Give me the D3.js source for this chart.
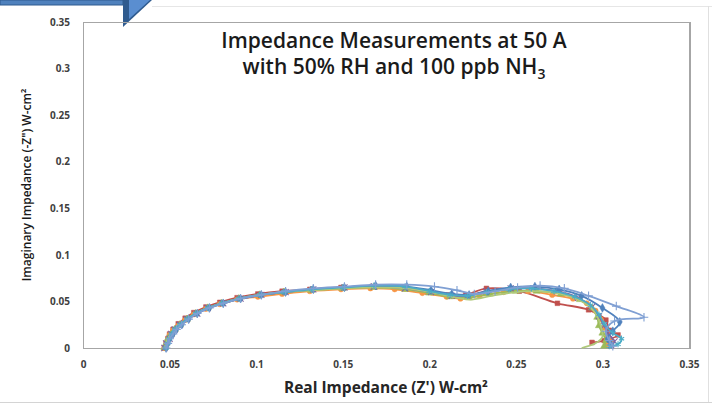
<!DOCTYPE html>
<html>
<head>
<meta charset="utf-8">
<script src="https://cdn.jsdelivr.net/npm/d3@7"></script>
<style>
  body { margin: 0; background: #fff; }
  svg { display: block; }
  text { font-family: "Open Sans", "Noto Sans", sans-serif; }
</style>
</head>
<body>
<svg id="chart" width="712" height="404"></svg>
<script>
// axis ticks
const xTicks = [0, 0.05, 0.1, 0.15, 0.2, 0.25, 0.3, 0.35];
const yTicks = [0, 0.05, 0.1, 0.15, 0.2, 0.25, 0.3, 0.35];

// each run: real part (Z') and imaginary part (-Z'')
const blueX   = [0.048,0.049,0.050,0.052,0.054,0.057,0.061,0.066,0.073,0.081,0.091,0.103,0.117,0.133,0.151,0.169,0.187,0.201,0.213,0.223,0.234,0.247,0.261,0.275,0.288,0.300,0.310,0.306,0.303,0.305];
const blueY   = [0.000,0.005,0.010,0.015,0.020,0.025,0.031,0.037,0.043,0.048,0.053,0.057,0.060,0.063,0.065,0.067,0.066,0.062,0.058,0.057,0.061,0.065,0.066,0.063,0.056,0.043,0.028,0.018,0.010,0.004];
const redX    = [0.047,0.048,0.049,0.050,0.052,0.055,0.059,0.064,0.071,0.079,0.089,0.101,0.115,0.131,0.149,0.167,0.185,0.199,0.211,0.221,0.233,0.252,0.274,0.292,0.302,0.304,0.309,0.301,0.294];
const redY    = [0.000,0.005,0.010,0.015,0.020,0.026,0.032,0.038,0.044,0.049,0.054,0.058,0.061,0.063,0.065,0.066,0.064,0.060,0.057,0.057,0.064,0.061,0.048,0.041,0.030,0.019,0.014,0.008,0.006];
const greenX  = [0.047,0.048,0.049,0.051,0.053,0.056,0.060,0.065,0.072,0.080,0.090,0.102,0.116,0.132,0.150,0.168,0.186,0.200,0.212,0.223,0.235,0.250,0.262,0.276,0.287,0.294,0.297,0.298,0.300,0.302,0.301];
const greenY  = [0.000,0.005,0.010,0.015,0.020,0.025,0.031,0.037,0.043,0.048,0.053,0.057,0.060,0.062,0.064,0.065,0.063,0.059,0.055,0.054,0.058,0.061,0.061,0.058,0.052,0.043,0.033,0.024,0.016,0.008,0.002];
const purpleX = [0.047,0.048,0.050,0.051,0.053,0.056,0.060,0.066,0.072,0.081,0.091,0.103,0.117,0.133,0.151,0.168,0.186,0.201,0.213,0.222,0.233,0.247,0.260,0.274,0.286,0.294,0.298,0.301,0.304,0.307,0.305];
const purpleY = [0.000,0.005,0.010,0.015,0.020,0.025,0.031,0.037,0.043,0.048,0.053,0.057,0.060,0.063,0.065,0.066,0.064,0.060,0.056,0.056,0.061,0.064,0.064,0.061,0.054,0.044,0.034,0.024,0.014,0.007,0.003];
const aquaX   = [0.048,0.049,0.050,0.051,0.053,0.056,0.060,0.065,0.072,0.080,0.090,0.102,0.116,0.132,0.150,0.168,0.186,0.200,0.212,0.222,0.233,0.246,0.259,0.272,0.284,0.293,0.298,0.301,0.306,0.311,0.309,0.304];
const aquaY   = [0.000,0.005,0.010,0.015,0.020,0.025,0.031,0.037,0.043,0.048,0.053,0.057,0.060,0.063,0.065,0.067,0.066,0.061,0.057,0.056,0.060,0.063,0.064,0.061,0.055,0.046,0.036,0.026,0.016,0.010,0.004,0.002];
const orangeX = [0.047,0.048,0.049,0.050,0.052,0.055,0.059,0.064,0.071,0.079,0.089,0.101,0.115,0.131,0.149,0.166,0.180,0.196,0.210,0.218,0.229,0.243,0.257,0.271,0.283,0.291,0.296,0.299,0.301,0.303,0.305,0.303];
const orangeY = [0.000,0.004,0.009,0.014,0.019,0.024,0.030,0.036,0.042,0.047,0.052,0.055,0.058,0.061,0.063,0.064,0.063,0.059,0.055,0.053,0.056,0.060,0.061,0.057,0.053,0.048,0.040,0.031,0.022,0.014,0.008,0.004];
const paleX   = [0.048,0.049,0.050,0.052,0.054,0.057,0.061,0.066,0.073,0.081,0.091,0.103,0.117,0.133,0.151,0.169,0.187,0.203,0.216,0.226,0.238,0.251,0.264,0.278,0.292,0.308,0.324,0.307,0.302,0.304,0.306];
const paleY   = [0.000,0.005,0.010,0.015,0.020,0.025,0.031,0.037,0.043,0.048,0.053,0.057,0.061,0.064,0.066,0.068,0.068,0.066,0.062,0.058,0.061,0.065,0.067,0.064,0.056,0.045,0.033,0.029,0.018,0.008,0.002];
const limeX   = [0.047,0.048,0.049,0.051,0.053,0.056,0.060,0.065,0.072,0.080,0.090,0.102,0.116,0.132,0.150,0.168,0.186,0.201,0.213,0.224,0.236,0.250,0.263,0.276,0.286,0.293,0.297,0.299,0.300,0.296,0.288];
const limeY   = [0.000,0.005,0.010,0.015,0.020,0.025,0.031,0.037,0.043,0.048,0.053,0.057,0.060,0.062,0.064,0.065,0.064,0.060,0.055,0.052,0.056,0.060,0.061,0.058,0.052,0.044,0.034,0.024,0.012,0.005,0.000];

const runs = [
  { x: redX,    y: redY,    color: "#C0504D", symbol: d3.symbolSquare },
  { x: orangeX, y: orangeY, color: "#F79646", symbol: d3.symbolCircle },
  { x: greenX,  y: greenY,  color: "#9BBB59", symbol: d3.symbolTriangle },
  { x: purpleX, y: purpleY, color: "#8064A2", symbol: d3.symbolX, stroke: true },
  { x: blueX,   y: blueY,   color: "#4F81BD", symbol: d3.symbolDiamond },
  { x: limeX,   y: limeY,   color: "#AFC97A", symbol: null },
  { x: aquaX,   y: aquaY,   color: "#4BACC6", symbol: d3.symbolAsterisk, stroke: true },
  { x: paleX,   y: paleY,   color: "#7F9FD3", symbol: d3.symbolPlus, stroke: true }
];

const svg = d3.select("#chart");
const margin = { left: 83, right: 23, top: 22, bottom: 56 };
const width = 712 - margin.left - margin.right;
const height = 404 - margin.top - margin.bottom;

// slide decorations
svg.append("rect").attr("x", 0).attr("y", 0).attr("width", 123).attr("height", 5)
  .attr("fill", "#4F81BD").attr("stroke", "#2F5B8F").attr("stroke-width", 1);
svg.append("path").attr("d", "M123,0 L152,0 L123,27 Z").attr("fill", "#2F5B8F");
svg.append("path").attr("d", "M129,0 L150,0 L129,19 Z").attr("fill", "#5A8ED0");
svg.append("line").attr("x1", 152).attr("x2", 712).attr("y1", 6.5).attr("y2", 6.5)
  .attr("stroke", "#e6e6e6");
svg.append("line").attr("x1", 708.5).attr("x2", 708.5).attr("y1", 6).attr("y2", 402)
  .attr("stroke", "#e0e0e0");
svg.append("line").attr("x1", 0).attr("x2", 712).attr("y1", 402.5).attr("y2", 402.5)
  .attr("stroke", "#d4d4d4");

const g = svg.append("g").attr("transform", "translate(" + margin.left + "," + margin.top + ")");

const x = d3.scaleLinear().domain([0, 0.35]).range([0, width]);
const y = d3.scaleLinear().domain([0, 0.35]).range([height, 0]);
const fmt = d => d === 0 ? "0" : String(+d.toFixed(2));

// plot frame
g.append("rect").attr("x", 0.5).attr("y", 0.5).attr("width", width).attr("height", height)
  .attr("fill", "none").attr("stroke", "#a6a6a6");
g.append("line").attr("x1", width + 1).attr("x2", width + 1).attr("y1", 0).attr("y2", height + 1)
  .attr("stroke", "#a6a6a6").attr("stroke-width", 2);

// axes
const xAxis = g.append("g").attr("transform", "translate(0," + height + ")")
  .call(d3.axisBottom(x).tickValues(xTicks).tickFormat(fmt).tickSize(0).tickPadding(13));
const yAxis = g.append("g")
  .call(d3.axisLeft(y).tickValues(yTicks).tickFormat(fmt).tickSize(0).tickPadding(13));
[xAxis, yAxis].forEach(a => {
  a.select(".domain").remove();
  a.selectAll("text").attr("fill", "#404040").style("font-size", "10px")
    .style("font-weight", "bold").style("font-family", "\"Open Sans\", sans-serif");
});

// runs
const line = d3.line().x(d => x(d[0])).y(d => y(d[1])).curve(d3.curveCatmullRom.alpha(0.5));
runs.forEach(r => {
  const pts = r.x.map((v, i) => [v, r.y[i]]);
  g.append("path").datum(pts).attr("d", line)
    .attr("fill", "none").attr("stroke", r.color).attr("stroke-width", 1.8);
  if (r.symbol) {
    const sym = d3.symbol().type(r.symbol).size(r.stroke ? 26 : 22);
    g.selectAll(null).data(pts).enter().append("path")
      .attr("transform", d => "translate(" + x(d[0]) + "," + y(d[1]) + ")")
      .attr("d", sym)
      .attr("fill", r.stroke ? "none" : r.color)
      .attr("stroke", r.color).attr("stroke-width", r.stroke ? 1.1 : 0.5);
  }
});

// titles
const title = svg.append("text").attr("x", 394).attr("text-anchor", "middle")
  .style("font-size", "21px").style("font-weight", "600").attr("fill", "#1a1a1a");
title.append("tspan").attr("x", 394).attr("y", 48).text("Impedance Measurements at 50 A");
const t2 = title.append("tspan").attr("x", 394).attr("y", 74);
t2.append("tspan").text("with 50% RH and 100 ppb NH");
t2.append("tspan").attr("dy", 5).style("font-size", "14px").text("3");

svg.append("text").attr("x", 386).attr("y", 393).attr("text-anchor", "middle")
  .style("font-size", "15.5px").style("font-weight", "bold").attr("fill", "#262626")
  .text("Real Impedance (Z') W-cm²");

svg.append("text").attr("transform", "translate(31,185) rotate(-90)").attr("text-anchor", "middle")
  .style("font-size", "12px").style("font-weight", "600").attr("fill", "#1a1a1a")
  .text("Imaginary Impedance (-Z\") W-cm²");
</script>
</body>
</html>
